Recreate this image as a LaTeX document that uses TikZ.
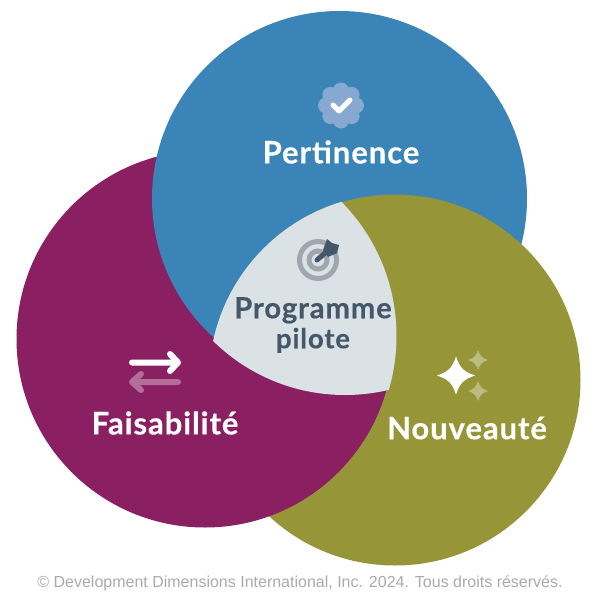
\documentclass[tikz,border=0pt]{standalone}
\usepackage{fontspec}
\setmainfont{Lato}
\newfontfamily\headfont[BoldFeatures={FakeBold=0.35,LetterSpace=3}]{Lato}
\newfontfamily\footfont{Liberation Sans}
\definecolor{bluec}{HTML}{3A84B7}
\definecolor{plumc}{HTML}{8A1F62}
\definecolor{olivec}{HTML}{969638}
\definecolor{corec}{HTML}{DAE2E6}
\definecolor{slatec}{HTML}{44586A}
\definecolor{ringc}{HTML}{9FA6AE}
\definecolor{badgec}{HTML}{87A8CF}
\usetikzlibrary{positioning,arrows.meta,calc}
\tikzset{
    title/.style={font=\headfont\bfseries\fontsize{31}{33}\selectfont,text=white,align=center},
    coretitle/.style={font=\headfont\bfseries\fontsize{27.5}{30}\selectfont,text=slatec,align=center},
    foot/.style={font=\footfont\fontsize{16}{18}\selectfont,text=black!33},
    arrowline/.style={line width=6pt,line cap=round,line join=round},
    sparkle/.pic={\fill (-1,0) .. controls (-.4,-.2) and (-.2,-.4) .. (0,-1) .. controls (.2,-.4) and (.4,-.2) .. (1,0) .. controls (.4,.2) and (.2,.4) .. (0,1) .. controls (-.2,.4) and (-.4,.2) .. (-1,0) -- cycle;}
}
\newcommand{\bluecircle}{(339.5,198.5) circle[radius=187.5]}
\newcommand{\plumcircle}{(205,339) circle[radius=188.5]}
\newcommand{\olivecircle}{(395,380) circle[radius=185.5]}
\begin{document}
\begin{tikzpicture}[x=1pt,y=-1pt]
    \useasboundingbox (0,0) rectangle (600,600);
    \fill[white] (0,0) rectangle (600,600);
    % the three discs
    \fill[olivec] \olivecircle;
    \fill[plumc] \plumcircle;
    \fill[bluec] \bluecircle;
    \begin{scope}
        \clip (339.5,198.5) circle[radius=188.5];
        \fill[olivec] \olivecircle;
    \end{scope}
    \begin{scope}
        \clip (395,380) circle[radius=186];
        \clip (205.5,336) circle[radius=191];
        \fill[corec] (345,207) circle[radius=188];
    \end{scope}
    % badge
    \foreach \a in {0,45,...,315} {
        \fill[badgec] ($(341,105.5)+(\a:15)$) circle[radius=8];
    }
    \fill[badgec] (341,105.5) circle[radius=16];
    \draw[white,line width=5pt,line cap=round,line join=round] (333,105) -- (339,111) -- (350,100);
    \node[title] (pertinence) at (341,152) {Pertinence};
    % target
    \draw[ringc,line width=5pt] (318,260) circle[radius=18.5];
    \draw[ringc,line width=5pt] (318,260) circle[radius=9];
    \draw[slatec,line width=5pt,line cap=round] (317,260) -- (332,247);
    \fill[slatec] (327,239) -- (332,243) -- (339,245) -- (337,253) -- (328,257) -- (323,250) -- cycle;
    \node[coretitle] (pilote) at (313,325) {{\fontsize{29.2}{30}\selectfont Programme}\\pilote};
    % arrows
    \draw[white,arrowline] (132,362.5) -- (178,362.5) (170,354) -- (178,362.5) -- (170,371);
    \draw[white!35!plumc,arrowline] (178,382) -- (132,382) (141,374) -- (132,382) -- (141,390);
    \node[title] (faisabilite) at (165,423) {Faisabilité};
    % sparkles
    \pic[white,scale=19] at (456,375.5) {sparkle};
    \pic[white!35!olivec,scale=10] at (478,360) {sparkle};
    \pic[white!35!olivec,scale=10] at (478,391) {sparkle};
    \node[title] (nouveaute) at (467,428) {Nouveauté};
    \node[foot] (droits) at (300,583) {© Development Dimensions International, Inc. 2024. Tous droits réservés.};
\end{tikzpicture}
\end{document}
